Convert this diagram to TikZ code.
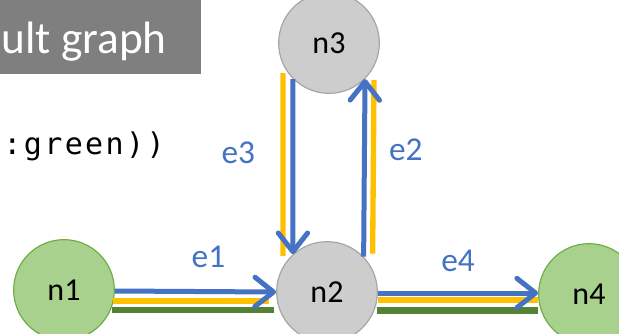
\documentclass[tikz,border=0pt]{standalone}
\usepackage{fontspec}
\setmainfont{Carlito}
\newfontfamily\codefont[LetterSpace=8]{DejaVu Sans Mono}
\usetikzlibrary{arrows.meta,calc}

\definecolor{edgeblue}{HTML}{4472C4}
\definecolor{pathyellow}{HTML}{FFC000}
\definecolor{pathgreen}{HTML}{548235}
\definecolor{leaffill}{HTML}{A9D18E}
\definecolor{leafline}{HTML}{70AD47}
\definecolor{hubfill}{HTML}{CDCDCD}
\definecolor{hubline}{HTML}{A6A6A6}
\definecolor{bannergray}{HTML}{7F7F7F}

\tikzset{
  vertex/.style={circle, minimum size=75.5, inner sep=0pt, line width=0.9pt,
                 font=\fontsize{24}{28}\selectfont, text=black},
  leaf/.style={vertex, fill=leaffill, draw=leafline},
  hub/.style={vertex, fill=hubfill, draw=hubline},
  edgearrow/.style={draw=edgeblue, line width=3.75pt,
                    -{Straight Barb[length=14pt,width=22pt,line cap=round,line join=round]}},
  yellowpath/.style={draw=pathyellow, line width=4pt},
  greenpath/.style={draw=pathgreen, line width=4.8pt},
  edgelabel/.style={text=edgeblue, font=\fontsize{25}{28}\selectfont, inner sep=0pt},
}

\begin{document}
\begin{tikzpicture}[x=0.75pt, y=-0.75pt]
  \useasboundingbox (0,0) rectangle (619,333);

  % title banner and code line
  \fill[bannergray] (-10,-10) rectangle (201,74);
  \node[anchor=base east, inner sep=0pt, text=white,
        font=\fontsize{34}{40}\selectfont] (title) at (167,53) {ult graph};
  \node[anchor=base east, inner sep=0pt, text=black,
        font=\codefont\fontsize{22.5}{26}\selectfont] (code) at (165,154) {:green))};

  % vertices
  \node[leaf] (n1) at (64,290) {n1};
  \node[hub]  (n2) at (327,292) {n2};
  \node[hub]  (n3) at (329,43) {n3};
  \node[leaf] (n4) at (589,294) {n4};

  % highlighted paths
  \draw[yellowpath] ($(n1.east)+(-2,11)$) -- ($(n2.west)+(-7,9)$);
  \draw[greenpath]  ($(n1.east)+(-3,20)$) -- ($(n2.west)+(-2,18)$);
  \draw[yellowpath] ($(n2.east)+(0,8)$) -- ($(n4.west)+(0,6)$);
  \draw[greenpath]  ($(n2.east)+(-1,18.5)$) -- ($(n4.west)+(0,16.5)$);
  \draw[yellowpath] ($(n3.-135)+(-10,-6)$) -- ($(n2.132)+(-10,2)$);
  \draw[yellowpath] ($(n3.-45)+(9,1)$) -- ($(n2.44)+(9,-3)$);

  % directed edges
  \draw[edgearrow] ($(n1.east)+(0,1)$) -- (n2.west) node[pos=0.58, yshift=26pt, edgelabel] {e1};
  \draw[edgearrow] ($(n2.east)+(0,1)$) -- ($(n4.west)+(0,-1)$) node[pos=0.5, yshift=24pt, edgelabel] {e4};
  \draw[edgearrow] (n3.-135) -- (n2.132) node[pos=0.42, xshift=-41pt, edgelabel] {e3};
  \draw[edgearrow] (n2.44) -- (n3.-45) node[pos=0.6, xshift=31pt, edgelabel] {e2};
\end{tikzpicture}
\end{document}
